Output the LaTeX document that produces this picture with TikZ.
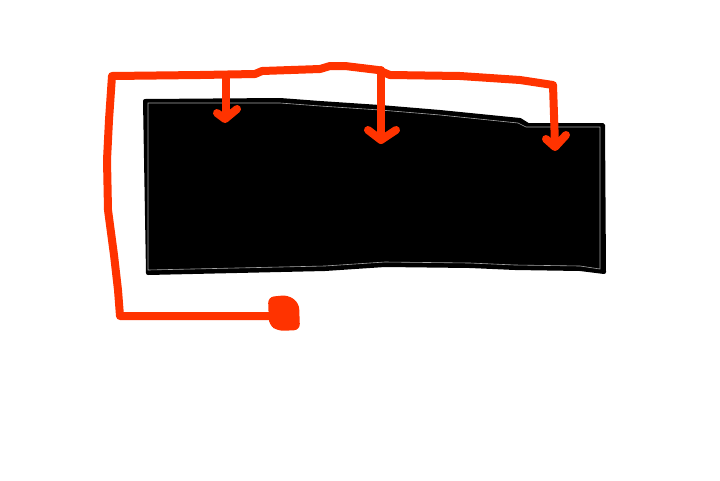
\documentclass[tikz,border=0pt]{standalone}
\definecolor{pen}{HTML}{FF3300}
\begin{document}
\begin{tikzpicture}[x=1pt,y=-1pt,
  redpen/.style={draw=pen,line width=8pt,line cap=round,line join=round},
  box/.style={fill=black,draw=black,line width=4pt,line join=round}]
\useasboundingbox (0,0) rectangle (720,480);
% black block
\path[box] (145,101) -- (280,100) -- (320,103) -- (380,107) -- (440,112) -- (520,120) -- (528,125) -- (603,125)
  -- (604,272) -- (580,269) -- (515,268) -- (470,266) -- (385,265) -- (325,269) -- (148,273) -- cycle;
\draw[gray!70,line width=0.6pt] (148,103) -- (280,103) -- (320,106) -- (380,110) -- (440,115) -- (518,123) -- (526,127) -- (600,127)
  -- (600,269) -- (580,266) -- (515,265) -- (470,263) -- (385,262) -- (325,266) -- (148,270) -- cycle;
% red routing line
\draw[redpen] (285,316) -- (120,316) -- (118,290) -- (114,255) -- (108,210) -- (107,160) -- (109,120) -- (112,76)
  -- (200,75) -- (255,74) -- (262,71) -- (320,69) -- (330,66) -- (345,66) -- (378,70) -- (390,75) -- (460,76)
  -- (520,80) -- (553,85) -- (555,145);
\draw[redpen] (226,75) -- (226,116);
\draw[redpen] (381,70) -- (381,140);
\draw[redpen] (217,113) -- (225,119) -- (237,109);
\draw[redpen] (368,130) -- (381,140) -- (396,130);
\draw[redpen] (546,139) -- (555,147) -- (566,135);
% red blob
\fill[pen,rounded corners=6pt] (268,297) -- (288,295) -- (299,303) -- (300,330) -- (278,331) -- (269,325) -- cycle;
\end{tikzpicture}
\end{document}
